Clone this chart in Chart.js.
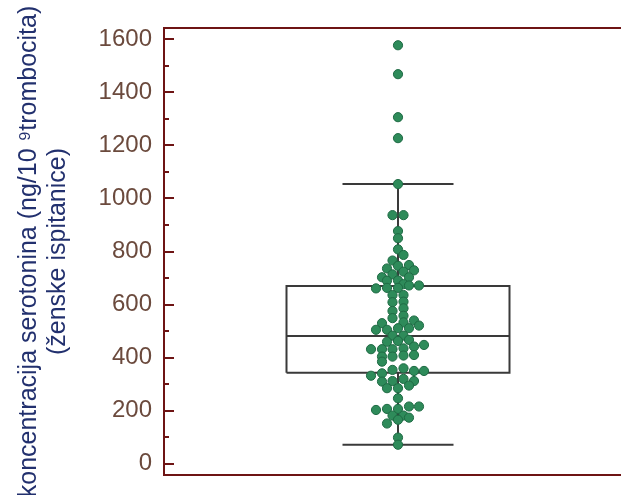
<!DOCTYPE html>
<html>
<head>
<meta charset="utf-8">
<script src="https://cdn.jsdelivr.net/npm/chart.js@4"></script>
<style>
  body { margin: 0; background: #fff; }
  #wrap { width: 621px; height: 495px; }
</style>
</head>
<body>
<div id="wrap"><canvas id="graf" width="621" height="495"></canvas></div>
<script>
// vrijednosti ocitane sa slike (ng/10^9 trombocita)
const serotonin = [
    1577, 1468, 1306, 1227, 1054,
    937, 937, 877, 850, 808,
    787, 766, 749, 746, 736, 729, 724, 714, 703, 703, 691, 690, 677,
    661, 663, 663, 672, 672,
    636, 636, 609, 611, 576, 586, 558, 549, 540,
    530, 533, 521, 505, 505, 511, 511, 483, 483, 460, 463, 467,
    432, 432, 432, 435, 442, 448,
    404, 404, 408, 410,
    385, 332, 341, 354, 360, 350, 350, 310, 312, 320, 312, 285, 285, 295, 247,
    203, 207, 207, 216, 216, 182, 182, 174, 152, 166, 99, 72
]
// pomak tocke lijevo/desno od sredine (beeswarm)
const pomak = [
    0, 0, 0, 0, 0,
    -5.5, 5.5, 0, 0, 0,
    5.5, -5.5, 11, 0, -11, 16, 5.5, -5.5, 11, -16, 0, -11, 5.5,
    -22, -11, 0, 11, 21,
    -5.5, 5.5, -5.5, 5.5, -5.5, 5.5, 5.5, -5.5, 16,
    -16, 5.5, 21, -22, -11, 0, 11, -5.5, 5.5, -11, 0, 11,
    -27, -16, -5.5, 5.5, 16, 26,
    -16, -5.5, 5.5, 16,
    -16, -27, -16, -5.5, 5.5, 16, 26, -16, -5.5, 5.5, 16, -11, 0, 11, 0,
    -22, -11, 0, 11, 21, -5.5, 5.5, 11, -11, 0, 0, 0
]
// donji brk, Q1, medijan, Q3, gornji brk
const boxStats = [72, 343, 482, 670, 1054]
const tickVals = [0, 200, 400, 600, 800, 1000, 1200, 1400, 1600]
const minorVals = [100, 300, 500, 700, 900, 1100, 1300, 1500]

const bojaOsi = '#6e1414'
const bojaBox = '#3a3a3a'
const polaKutije = 111.5
const polaBrka = 55.5

function linija(tocke) {
    return {
        type: 'line',
        data: tocke,
        borderColor: bojaBox,
        borderWidth: 2,
        pointRadius: 0,
        fill: false,
        tension: 0,
        order: 2
    }
}

const [brkDolje, q1, med, q3, brkGore] = boxStats

const okvir = {
    id: 'okvir',
    afterDatasetsDraw(chart) {
        const ctx = chart.ctx
        const a = chart.chartArea
        const y = chart.scales.y
        ctx.save()
        ctx.strokeStyle = bojaOsi
        ctx.lineWidth = 2
        ctx.beginPath()
        ctx.moveTo(a.left, a.top); ctx.lineTo(a.right, a.top)
        ctx.moveTo(a.left, a.bottom); ctx.lineTo(a.right, a.bottom)
        ctx.moveTo(a.left, a.top - 1); ctx.lineTo(a.left, a.bottom + 1)
        tickVals.forEach(v => {
            const py = Math.round(y.getPixelForValue(v))
            ctx.moveTo(a.left, py); ctx.lineTo(a.left + 10, py)
        })
        minorVals.forEach(v => {
            const py = Math.round(y.getPixelForValue(v))
            ctx.moveTo(a.left, py); ctx.lineTo(a.left + 5, py)
        })
        ctx.stroke()
        ctx.restore()
    }
}

new Chart(document.getElementById('graf').getContext('2d'), {
    type: 'scatter',
    data: {
        datasets: [
            {
                label: 'serotonin',
                data: serotonin.map((v, i) => ({ x: pomak[i], y: v })),
                pointRadius: 4.6,
                backgroundColor: '#2e8b5a',
                borderColor: '#1f6a44',
                borderWidth: 1,
                order: 1
            },
            linija([{x: -polaKutije, y: q1}, {x: -polaKutije, y: q3}, {x: polaKutije, y: q3}, {x: polaKutije, y: q1}, {x: -polaKutije, y: q1}]),
            linija([{x: -polaKutije, y: med}, {x: polaKutije, y: med}]),
            linija([{x: 0, y: q3}, {x: 0, y: brkGore}]),
            linija([{x: -polaBrka, y: brkGore}, {x: polaBrka, y: brkGore}]),
            linija([{x: 0, y: q1}, {x: 0, y: brkDolje}]),
            linija([{x: -polaBrka, y: brkDolje}, {x: polaBrka, y: brkDolje}])
        ]
    },
    options: {
        responsive: false,
        animation: false,
        layout: { autoPadding: false, padding: { top: 28, bottom: 20, left: 0, right: 0 } },
        plugins: {
            legend: { display: false },
            tooltip: { enabled: false }
        },
        scales: {
            x: {
                type: 'linear',
                display: false,
                min: -234,
                max: 223
            },
            y: {
                min: -42,
                max: 1642,
                grid: { display: false, drawTicks: false },
                border: { display: false },
                afterBuildTicks: scale => {
                    scale.ticks = tickVals.map(v => ({ value: v }))
                },
                afterFit: scale => {
                    scale.width = 164
                    scale.paddingTop = 0
                    scale.paddingBottom = 0
                },
                ticks: {
                    padding: 12,
                    color: '#6b4a3d',
                    font: { family: 'Liberation Sans', size: 24 },
                    callback: value => String(value)
                },
                title: {
                    display: true,
                    text: ['koncentracija serotonina (ng/10 \u2079trombocita)', '(ženske ispitanice)'],
                    color: '#22306e',
                    font: { family: 'Liberation Sans', size: 25, lineHeight: 1.15 },
                    padding: { top: 15, bottom: 0 }
                }
            }
        }
    },
    plugins: [okvir]
})
</script>
</body>
</html>
